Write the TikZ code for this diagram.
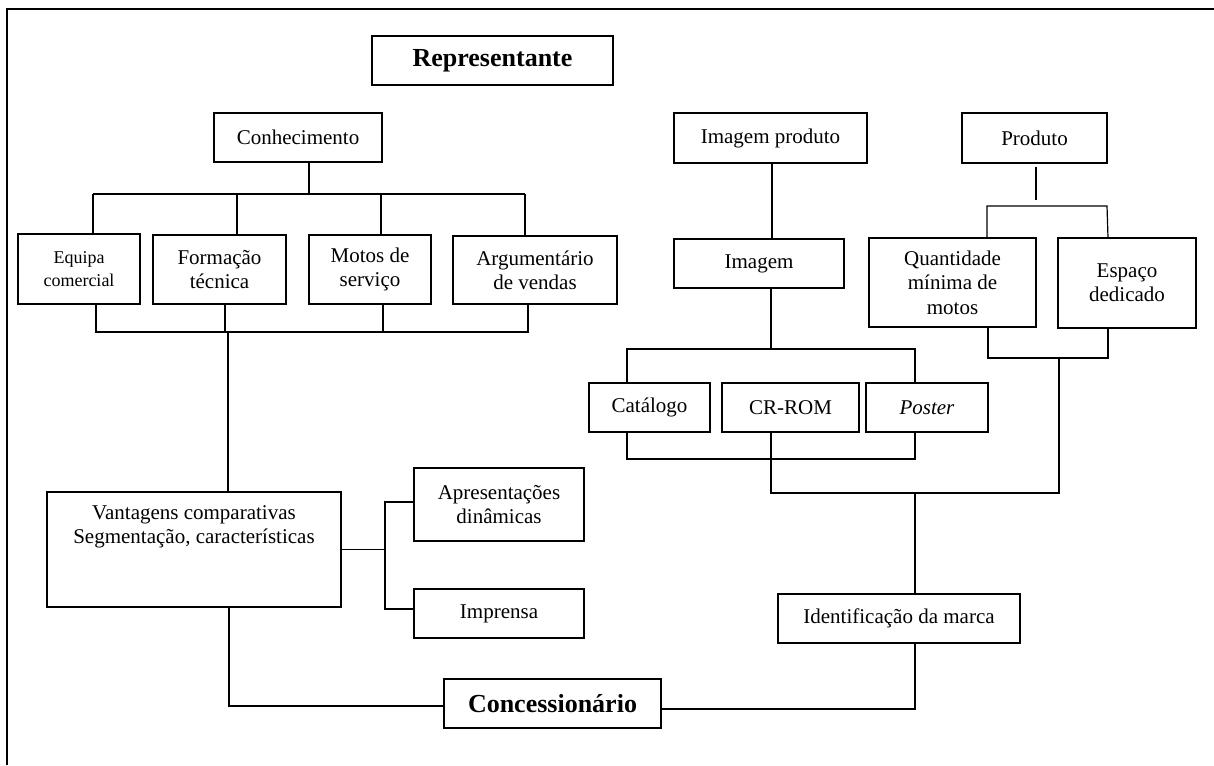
\documentclass[tikz,border=0pt]{standalone}
\usepackage{fontspec}
\setmainfont{Liberation Serif}
% a box given by its corners (x1,y1)-(x2,y2), in pixel units
\newcommand\mkbox[7][]{%
  \node[box,#1,minimum width={(#5-#3)*0.5pt},minimum height={(#6-#4)*0.5pt}]
    (#2) at ({(#3+#5)/2},{(#4+#6)/2}) {#7};}
\begin{document}
\begin{tikzpicture}[x=0.5pt,y=-0.5pt,
  every node/.style={font=\fontsize{10.5}{12.2}\selectfont},
  box/.style={draw, line width=0.6pt, inner sep=1pt, outer sep=0pt, align=center},
  small/.style={font=\fontsize{9}{11.5}\selectfont},
  title/.style={font=\fontsize{13}{15}\selectfont\bfseries},
  link/.style={line width=0.6pt},
]
\useasboundingbox (0,0) rectangle (1214,765);

% outer frame
\draw[line width=1pt] (7,765) -- (7,9.5) -- (1214,9.5);

% boxes
\mkbox[title]{rep}{372}{36}{613}{85}{Representante}
\mkbox{con}{214}{113}{382}{162}{Conhecimento}
\mkbox[small]{eq}{18}{234}{140}{304}{Equipa\\comercial}
\mkbox{fo}{153}{235}{286}{304}{Formação\\técnica}
\mkbox{mo}{309}{235}{431}{304}{Motos de\\serviço}
\mkbox{ar}{453}{236}{617}{304}{Argumentário\\de vendas}
\mkbox{ip}{674}{113}{867}{163}{Imagem produto}
\mkbox{pr}{962}{113}{1107}{163}{Produto}
\mkbox{im}{674}{239}{844}{288}{Imagem}
\mkbox{qt}{869}{238}{1036}{327}{Quantidade\\mínima de\\motos}
\mkbox{es}{1058}{238}{1196}{328}{Espaço\\dedicado}
\mkbox{ca}{589}{383}{710}{432}{Catálogo}
\mkbox{cr}{722}{383}{859}{432}{CR-ROM}
\mkbox{po}{866}{383}{988}{432}{\textit{Poster}}
\mkbox{va}{47}{492}{341}{607}{}
\node[anchor=north, inner sep=0pt, align=center] (vatext) at (194,505)
  {Vantagens comparativas\\Segmentação, características};
\mkbox{ap}{414}{468}{584}{541}{Apresentações\\dinâmicas}
\mkbox{ipr}{414}{589}{584}{638}{Imprensa}
\mkbox{id}{778}{594}{1020}{643}{Identificação da marca}
\mkbox[title]{cs}{444}{679}{661}{728}{Concessionário}

% Conhecimento and its four branches
\draw[link] (con.south -| 309,0) -- (309,194);
\draw[link] (93,194) -- (525,194);
\draw[link] (93,194) -- (eq.north -| 93,0);
\draw[link] (237,194) -- (fo.north -| 237,0);
\draw[link] (381,194) -- (mo.north -| 381,0);
\draw[link] (525,194) -- (ar.north -| 525,0);
\draw[link] (eq.south -| 96,0) -- (96,332) -- (528,332) -- (ar.south -| 528,0);
\draw[link] (fo.south -| 225,0) -- (225,332);
\draw[link] (mo.south -| 383,0) -- (383,332);
\draw[link] (228,332) -- (va.north -| 228,0);

% Vantagens to its two media
\draw[link] (va.east) -- (385,549.5);
\draw[link] (ap.west |- 0,502) -- (385,502) -- (385,609) -- (ipr.west |- 0,609);

% down to Concessionario
\draw[link] (va.south -| 229,0) -- (229,706) -- (cs.west |- 0,706);
\draw[link] (cs.east |- 0,709) -- (915,709) -- (id.south -| 915,0);

% Imagem produto branch
\draw[link] (ip.south -| 772,0) -- (im.north -| 772,0);
\draw[link] (im.south -| 771,0) -- (771,349);
\draw[link] (ca.north -| 627,0) -- (627,349) -- (915,349) -- (po.north -| 915,0);
\draw[link] (ca.south -| 627,0) -- (627,459) -- (915,459) -- (po.south -| 915,0);
\draw[link] (cr.south -| 771,0) -- (771,493) -- (1059,493) -- (1059,358);
\draw[link] (915,493) -- (id.north -| 915,0);

% Produto branch
\draw[link] (1036,167) -- (1036,200);
\draw[link] (qt.north -| 987,0) -- (987,206) -- (1107,206) -- (es.north -| 1108,0);
\draw[link] (qt.south -| 988,0) -- (988,358) -- (1108,358) -- (es.south -| 1108,0);
\end{tikzpicture}
\end{document}
